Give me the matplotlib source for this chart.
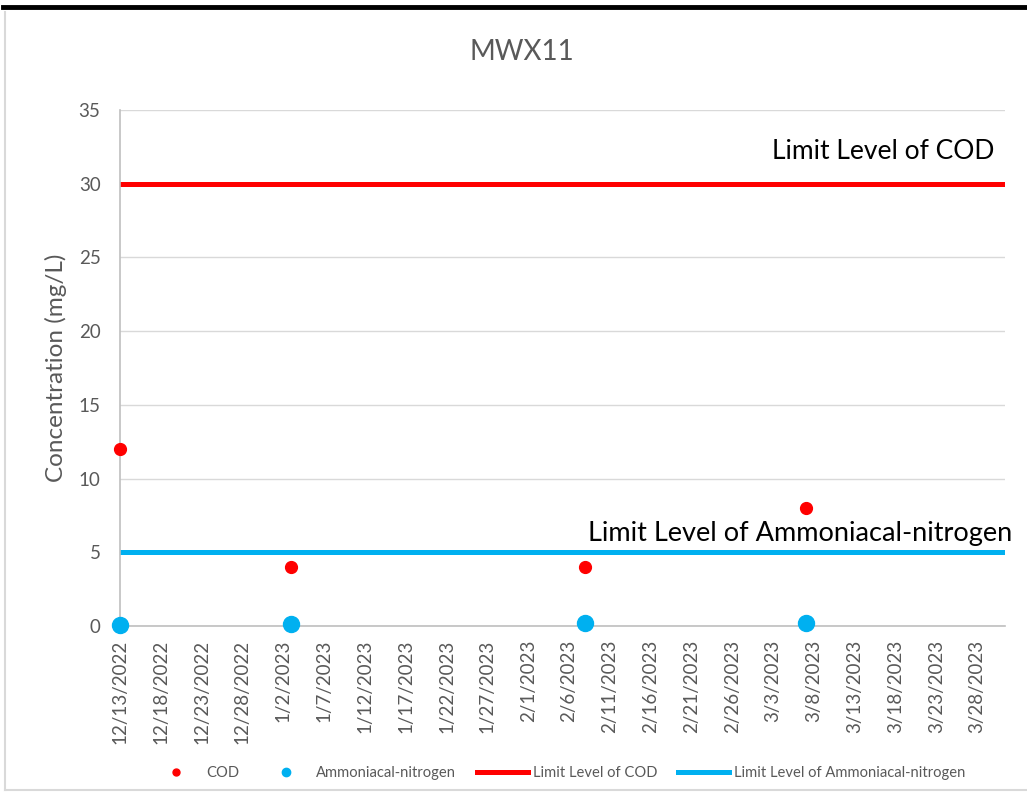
import numpy as np
import pandas as pd
import matplotlib
matplotlib.use("Agg")
import matplotlib.pyplot as plt
import matplotlib.dates as mdates
from matplotlib.lines import Line2D

plt.rcParams['font.family'] = ['Lato', 'DejaVu Sans']

# sampling dates and measured values (mg/L)
sample_dates = pd.to_datetime(["2022-12-13", "2023-01-03", "2023-02-08", "2023-03-07"])
cod = [12, 4, 4, 8]
ammonia = [0.1, 0.15, 0.2, 0.2]

cod_limit = 30
ammonia_limit = 5

x_start = pd.Timestamp("2022-12-13")
x_end = pd.Timestamp("2023-03-31 10:00")

grey = "#595959"
red = "#FF0000"
blue = "#00B0F0"

fig = plt.figure(figsize=(10.27, 7.98), dpi=100)
ax = fig.add_axes([0.1168, 0.2155, 0.8618, 0.6467])

ax.axhline(cod_limit, color=red, lw=3.6, zorder=2)
ax.axhline(ammonia_limit, color=blue, lw=3.6, zorder=2)
ax.plot(sample_dates, cod, 'o', color=red, ms=8.5, ls='none', zorder=4, clip_on=False)
ax.plot(sample_dates, ammonia, 'o', color=blue, ms=11.5, ls='none', zorder=4, clip_on=False)

ax.text(0.988, (cod_limit + 2.2) / 35, "Limit Level of COD", transform=ax.transAxes,
        ha='right', va='center', fontsize=19, color='black')
ax.text(1.008, (ammonia_limit + 1.3) / 35, "Limit Level of Ammoniacal-nitrogen",
        transform=ax.transAxes, ha='right', va='center', fontsize=19.5, color='black')

ax.set_ylim(0, 35)
ax.set_yticks(np.arange(0, 36, 5))
ax.set_xlim(x_start, x_end)
ticks = pd.date_range(x_start, pd.Timestamp("2023-03-28"), freq="5D")
ax.set_xticks(ticks)
ax.set_xticklabels([f"{d.month}/{d.day}/{d.year}" for d in ticks], rotation=90)

ax.grid(axis='y', color='#D9D9D9', lw=1)
ax.set_axisbelow(True)
for s in ['top', 'right']:
    ax.spines[s].set_visible(False)
for s in ['left', 'bottom']:
    ax.spines[s].set_color('#BFBFBF')
    ax.spines[s].set_linewidth(1.2)
ax.tick_params(axis='both', length=0, colors=grey, labelsize=13.5, pad=10)
ax.tick_params(axis='y', labelsize=13.5, pad=14)

ax.set_ylabel("Concentration (mg/L)", fontsize=17.5, color=grey, labelpad=8)
fig.text(0.508, 0.935, "MWX11", ha='center', va='center', fontsize=20, color=grey)

handles = [
    Line2D([], [], marker='o', color=red, ls='none', ms=5),
    Line2D([], [], marker='o', color=blue, ls='none', ms=6),
    Line2D([], [], color=red, lw=3.6),
    Line2D([], [], color=blue, lw=3.6),
]
labels = ["COD", "Ammoniacal-nitrogen", "Limit Level of COD", "Limit Level of Ammoniacal-nitrogen"]
leg = fig.legend(handles, labels, loc='center', bbox_to_anchor=(0.543, 0.031), ncol=4,
                 frameon=False, fontsize=10.6, handlelength=3.5, columnspacing=1.4,
                 handletextpad=0.3)
for t in leg.get_texts():
    t.set_color(grey)

# chart border and top black bar
fig.add_artist(Line2D([0.005, 0.005], [0.01, 0.985], color='#D9D9D9', lw=1.5, transform=fig.transFigure))
fig.add_artist(Line2D([0.005, 1], [0.01, 0.01], color='#D9D9D9', lw=1.5, transform=fig.transFigure))
fig.add_artist(Line2D([0.003, 1], [0.991, 0.991], color='black', lw=3.5, transform=fig.transFigure))

fig.savefig("out.png", dpi=100)
